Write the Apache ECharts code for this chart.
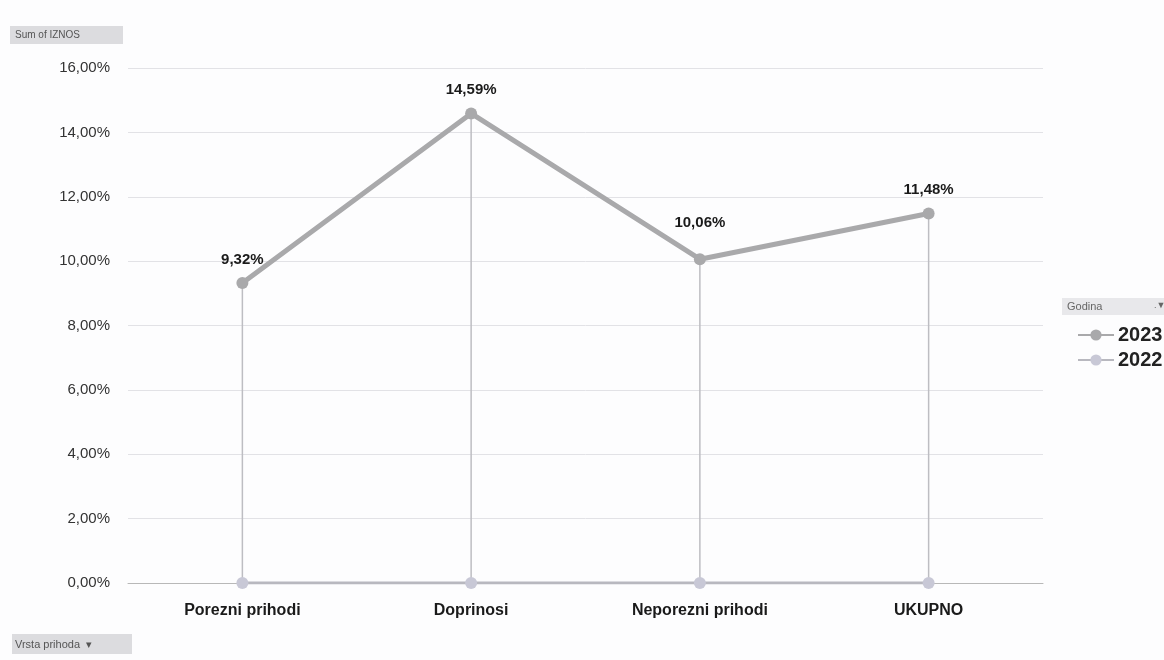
<!DOCTYPE html>
<html>
<head>
<meta charset="utf-8">
<script src="https://cdn.jsdelivr.net/npm/echarts@6/dist/echarts.min.js"></script>
<style>
  html, body { margin: 0; padding: 0; background: #fdfdfe; }
  #chart { width: 1164px; height: 660px; }
</style>
</head>
<body>
<div id="chart"></div>
<script>
// podaci
const categories = ['Porezni prihodi', 'Doprinosi', 'Neporezni prihodi', 'UKUPNO'];
const values2023 = [9.32, 14.59, 10.06, 11.48];
const values2022 = [0, 0, 0, 0];
const seriesNames = ['2023', '2022'];

const fmt = v => v.toFixed(2).replace('.', ',') + '%';

const chart = echarts.init(document.getElementById('chart'));

// Excel je oznaku za treću točku podigao iznad linije
const data2023 = values2023.map((v, i) =>
  i === 2 ? { value: v, label: { offset: [0, -13] } } : v
);

chart.setOption({
  backgroundColor: '#fdfdfe',
  animation: false,
  textStyle: { fontFamily: 'Liberation Sans, Arial, sans-serif' },
  grid: { left: 128, right: 121, top: 68, bottom: 77 },
  legend: {
    data: seriesNames,
    orient: 'vertical',
    left: 1077,
    top: 325,
    padding: 0,
    itemWidth: 36,
    itemHeight: 14,
    itemGap: 5,
    textStyle: { fontSize: 20, fontWeight: 'bold', color: '#222', padding: [0, 0, 0, -1] }
  },
  xAxis: {
    type: 'category',
    data: categories,
    axisLine: { lineStyle: { color: '#b8b8b8', width: 1 } },
    axisTick: { show: false },
    axisLabel: { fontSize: 16, fontWeight: 'bold', color: '#1a1a1a', margin: 20 }
  },
  yAxis: {
    type: 'value',
    min: 0,
    max: 16,
    interval: 2,
    axisLine: { show: false },
    axisTick: { show: false },
    axisLabel: { fontSize: 15, color: '#333', margin: 18, formatter: v => fmt(v) },
    splitLine: { lineStyle: { color: '#e2e2e6', width: 1 } }
  },
  graphic: [
    {
      type: 'group', left: 10, top: 26,
      children: [
        { type: 'rect', shape: { x: 0, y: 0, width: 113, height: 18 }, style: { fill: '#dcdcdf' } },
        { type: 'text', style: { x: 5, y: 4, text: 'Sum of IZNOS', fontSize: 10, fill: '#555', fontFamily: 'Liberation Sans' } }
      ]
    },
    {
      type: 'group', left: 12, top: 634,
      children: [
        { type: 'rect', shape: { x: 0, y: 0, width: 120, height: 20 }, style: { fill: '#dcdcdf' } },
        { type: 'text', style: { x: 3, y: 5, text: 'Vrsta prihoda  ▾', fontSize: 11, fill: '#555', fontFamily: 'Liberation Sans' } }
      ]
    },
    {
      type: 'group', left: 1062, top: 298,
      children: [
        { type: 'rect', shape: { x: 0, y: 0, width: 102, height: 17 }, style: { fill: '#e8e8eb' } },
        { type: 'text', style: { x: 5, y: 3, text: 'Godina', fontSize: 11, fill: '#666', fontFamily: 'Liberation Sans' } },
        { type: 'text', style: { x: 92, y: 3, text: '.▼', fontSize: 9, fill: '#666', fontFamily: 'Liberation Sans' } }
      ]
    }
  ],
  series: [
    {
      name: 'drop',
      type: 'bar',
      data: values2023,
      barWidth: 1.5,
      barGap: '-100%',
      silent: true,
      itemStyle: { color: '#bdbdc2' },
      z: 1
    },
    {
      name: '2023',
      type: 'line',
      data: data2023,
      symbol: 'circle',
      symbolSize: 12,
      lineStyle: { color: '#a9a9ab', width: 5 },
      itemStyle: { color: '#a9a9ab' },
      label: {
        show: true,
        position: 'top',
        distance: 10,
        fontSize: 15,
        fontWeight: 'bold',
        color: '#1a1a1a',
        formatter: p => fmt(p.value)
      },
      z: 3
    },
    {
      name: '2022',
      type: 'line',
      data: values2022,
      symbol: 'circle',
      symbolSize: 12,
      lineStyle: { color: '#b8b8bf', width: 3 },
      itemStyle: { color: '#c8c8d6' },
      z: 2
    }
  ]
});
</script>
</body>
</html>
